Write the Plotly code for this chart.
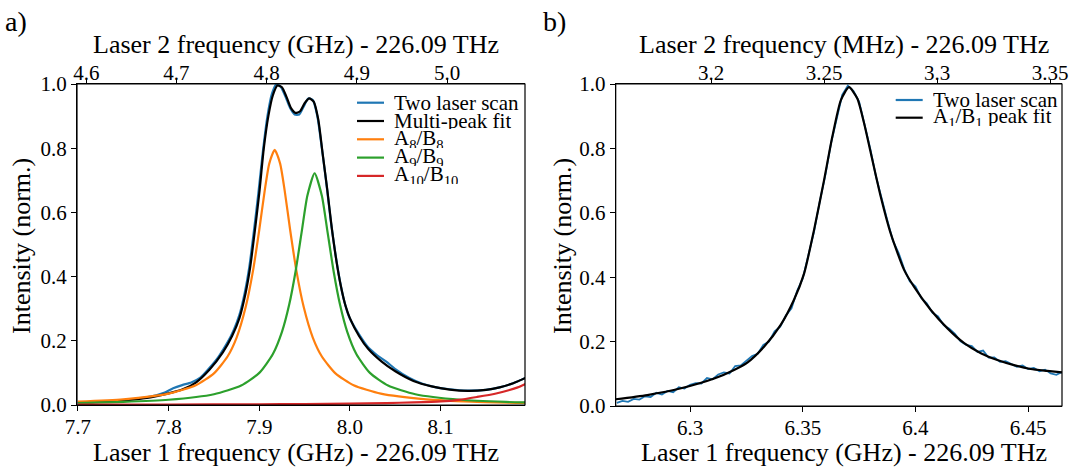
import plotly.graph_objects as go

# ---------------- panel a: multi-peak scan ----------------
scan_a_x = [7.700, 7.720, 7.740, 7.760, 7.780, 7.795, 7.805, 7.815, 7.825, 7.835,
            7.845, 7.855, 7.865, 7.872, 7.878, 7.884, 7.889, 7.894, 7.899, 7.904,
            7.909, 7.914, 7.919, 7.924, 7.929, 7.934, 7.939, 7.944, 7.949, 7.954,
            7.959, 7.964, 7.969, 7.974, 7.979, 7.984, 7.989, 7.994, 7.999, 8.010,
            8.020, 8.030, 8.040, 8.050, 8.065, 8.080, 8.095, 8.110, 8.130, 8.150,
            8.165, 8.180, 8.194]
scan_a_y = [0.006, 0.009, 0.013, 0.018, 0.026, 0.038, 0.052, 0.062, 0.070, 0.085,
            0.115, 0.150, 0.195, 0.235, 0.280, 0.350, 0.430, 0.540, 0.660, 0.790,
            0.900, 0.970, 1.000, 0.990, 0.960, 0.925, 0.905, 0.905, 0.930, 0.955,
            0.950, 0.900, 0.800, 0.690, 0.570, 0.470, 0.385, 0.320, 0.275, 0.220,
            0.180, 0.155, 0.135, 0.112, 0.085, 0.066, 0.055, 0.049, 0.045, 0.047,
            0.055, 0.068, 0.085]

fit_a_x = [7.700, 7.730, 7.760, 7.780, 7.800, 7.815, 7.830, 7.845, 7.860, 7.870,
           7.878, 7.885, 7.890, 7.895, 7.900, 7.905, 7.910, 7.915, 7.920, 7.925,
           7.930, 7.935, 7.940, 7.945, 7.950, 7.955, 7.960, 7.965, 7.970, 7.975,
           7.980, 7.985, 7.990, 7.995, 8.000, 8.010, 8.020, 8.035, 8.050, 8.070,
           8.090, 8.110, 8.130, 8.150, 8.165, 8.180, 8.194]
fit_a_y = [0.007, 0.011, 0.017, 0.024, 0.036, 0.048, 0.070, 0.110, 0.165, 0.215,
           0.270, 0.350, 0.430, 0.540, 0.660, 0.800, 0.900, 0.965, 0.995, 0.990,
           0.960, 0.925, 0.910, 0.915, 0.940, 0.955, 0.945, 0.890, 0.780, 0.670,
           0.550, 0.450, 0.370, 0.310, 0.270, 0.215, 0.175, 0.135, 0.105, 0.075,
           0.058, 0.048, 0.044, 0.047, 0.055, 0.068, 0.085]

peak8_x = [7.700, 7.750, 7.800, 7.830, 7.850, 7.865, 7.875, 7.885, 7.893, 7.900,
           7.906, 7.911, 7.917, 7.923, 7.928, 7.934, 7.941, 7.949, 7.959, 7.969,
           7.984, 8.004, 8.034, 8.084, 8.134, 8.194]
peak8_y = [0.0106, 0.0177, 0.0352, 0.0615, 0.0985, 0.151, 0.210, 0.305, 0.417, 0.546,
           0.668, 0.752, 0.795, 0.752, 0.668, 0.546, 0.417, 0.305, 0.210, 0.151,
           0.0985, 0.0615, 0.0352, 0.0177, 0.0106, 0.0065]

peak9_x = [7.700, 7.750, 7.800, 7.850, 7.880, 7.900, 7.915, 7.925, 7.933, 7.940,
           7.947, 7.953, 7.961, 7.969, 7.975, 7.982, 7.989, 7.997, 8.007, 8.022,
           8.042, 8.072, 8.122, 8.172, 8.194]
peak9_y = [0.0063, 0.0096, 0.0163, 0.0336, 0.0606, 0.100, 0.159, 0.228, 0.313, 0.416,
           0.544, 0.652, 0.722, 0.652, 0.544, 0.416, 0.313, 0.228, 0.159, 0.100,
           0.0606, 0.0336, 0.0163, 0.0096, 0.0079]

peak10_x = [7.700, 7.800, 7.900, 7.950, 8.000, 8.040, 8.070, 8.100, 8.120, 8.140,
            8.160, 8.175, 8.185, 8.194]
peak10_y = [0.001, 0.0015, 0.002, 0.003, 0.004, 0.006, 0.008, 0.011, 0.016, 0.025,
            0.035, 0.046, 0.055, 0.066]

# ---------------- panel b: single peak scan ----------------
scan_b_x = [6.2675, 6.2700, 6.2725, 6.2750, 6.2775, 6.2800, 6.2825, 6.2850, 6.2875, 6.2900,
            6.2925, 6.2950, 6.2975, 6.3000, 6.3025, 6.3050, 6.3075, 6.3100, 6.3125, 6.3150,
            6.3175, 6.3200, 6.3225, 6.3250, 6.3275, 6.3300, 6.3325, 6.3350, 6.3375, 6.3400,
            6.3425, 6.3450, 6.3475, 6.3500, 6.3525, 6.3550, 6.3575, 6.3600, 6.3625, 6.3650,
            6.3675, 6.3700, 6.3725, 6.3750, 6.3775, 6.3800, 6.3825, 6.3850, 6.3875, 6.3900,
            6.3925, 6.3950, 6.3975, 6.4000, 6.4025, 6.4050, 6.4075, 6.4100, 6.4125, 6.4150,
            6.4175, 6.4200, 6.4225, 6.4250, 6.4275, 6.4300, 6.4325, 6.4350, 6.4375, 6.4400,
            6.4425, 6.4450, 6.4475, 6.4500, 6.4525, 6.4550, 6.4575, 6.4600, 6.4625, 6.4650]
scan_b_y = [0.010, 0.016, 0.013, 0.022, 0.020, 0.030, 0.028, 0.041, 0.036, 0.047,
            0.043, 0.058, 0.054, 0.066, 0.071, 0.070, 0.087, 0.083, 0.098, 0.104,
            0.101, 0.124, 0.126, 0.141, 0.155, 0.162, 0.190, 0.200, 0.232, 0.246,
            0.281, 0.303, 0.358, 0.396, 0.472, 0.542, 0.634, 0.716, 0.815, 0.893,
            0.966, 0.995, 0.978, 0.945, 0.872, 0.797, 0.712, 0.641, 0.577, 0.513,
            0.476, 0.425, 0.387, 0.371, 0.336, 0.319, 0.290, 0.278, 0.251, 0.240,
            0.224, 0.201, 0.190, 0.186, 0.168, 0.172, 0.150, 0.151, 0.137, 0.139,
            0.131, 0.122, 0.126, 0.115, 0.118, 0.108, 0.113, 0.101, 0.097, 0.106]

fit_b_x = [6.2670, 6.2810, 6.2960, 6.3110, 6.3195, 6.3254, 6.3328, 6.3402, 6.3461, 6.3506,
           6.3550, 6.3594, 6.3631, 6.3669, 6.3705, 6.3742, 6.3772, 6.3802, 6.3846, 6.3890,
           6.3950, 6.3994, 6.4068, 6.4142, 6.4216, 6.4290, 6.4363, 6.4437, 6.4511, 6.4585,
           6.4652]
fit_b_y = [0.021, 0.034, 0.055, 0.086, 0.112, 0.135, 0.184, 0.252, 0.330, 0.412,
           0.547, 0.700, 0.836, 0.950, 0.990, 0.955, 0.878, 0.785, 0.650, 0.536,
           0.422, 0.370, 0.298, 0.241, 0.195, 0.164, 0.143, 0.127, 0.115, 0.109,
           0.104]

# ---------------- axis ticks ----------------
a_bottom_ticks = [7.7, 7.8, 7.9, 8.0, 8.1]
a_bottom_text = ["7.7", "7.8", "7.9", "8.0", "8.1"]
a_top_ticks = [4.6, 4.7, 4.8, 4.9, 5.0]
a_top_text = ["4.6", "4.7", "4.8", "4.9", "5.0"]
b_bottom_ticks = [6.3, 6.35, 6.4, 6.45]
b_bottom_text = ["6.3", "6.35", "6.4", "6.45"]
b_top_ticks = [3.2, 3.25, 3.3, 3.35]
b_top_text = ["3.2", "3.25", "3.3", "3.35"]
y_ticks = [0.0, 0.2, 0.4, 0.6, 0.8, 1.0]
y_text = ["0.0", "0.2", "0.4", "0.6", "0.8", "1.0"]

BLUE, ORANGE, GREEN, RED, BLACK = "#1f77b4", "#ff7f0e", "#2ca02c", "#d62728", "#000000"
FONT = "Liberation Serif"
W, H = 1072, 471


def px(X):
    return X / W


def py(Y):
    return 1 - Y / H


fig = go.Figure()


def curve(x, y, color, xa, ya, shape="spline", width=2.2):
    fig.add_trace(go.Scatter(x=x, y=y, mode="lines", xaxis=xa, yaxis=ya,
                             line=dict(color=color, width=width, shape=shape,
                                       smoothing=0.6),
                             showlegend=False, hoverinfo="skip"))


def top_axis_holder(ticks, xa, ya):
    # empty series so the secondary (top) frequency axis gets rendered
    fig.add_trace(go.Scatter(x=ticks, y=[None] * len(ticks), mode="lines",
                             xaxis=xa, yaxis=ya, showlegend=False, hoverinfo="skip"))


curve(scan_a_x, scan_a_y, BLUE, "x", "y")
curve(fit_a_x, fit_a_y, BLACK, "x", "y")
curve(peak8_x, peak8_y, ORANGE, "x", "y")
curve(peak9_x, peak9_y, GREEN, "x", "y")
curve(peak10_x, peak10_y, RED, "x", "y")
top_axis_holder(a_top_ticks, "x2", "y")
curve(scan_b_x, scan_b_y, BLUE, "x3", "y2", shape="linear", width=1.8)
curve(fit_b_x, fit_b_y, BLACK, "x3", "y2")
top_axis_holder(b_top_ticks, "x4", "y2")

tickfont = dict(family=FONT, size=21, color="black")
common = dict(showline=True, linecolor="black", linewidth=1.2, ticks="outside",
              ticklen=5, tickwidth=1, tickcolor="black", showgrid=False,
              zeroline=False, tickfont=tickfont, fixedrange=True, automargin=False)
top = dict(common, ticklen=4, ticklabelstandoff=-9)
bottom = dict(common, ticklabelstandoff=-2)

fig.update_layout(
    template="none",
    width=W, height=H, margin=dict(l=0, r=0, t=0, b=0, pad=0),
    paper_bgcolor="white", plot_bgcolor="white", showlegend=False,
    xaxis=dict(domain=[px(77), px(525)], anchor="y", range=[7.699, 8.193],
               tickmode="array", tickvals=a_bottom_ticks, ticktext=a_bottom_text, **bottom),
    xaxis2=dict(overlaying="x", side="top", anchor="y", range=[4.5897, 5.0864],
                tickmode="array", tickvals=a_top_ticks, ticktext=a_top_text, **top),
    yaxis=dict(domain=[py(405), py(84)], anchor="x", range=[0, 1.0],
               tickmode="array", tickvals=y_ticks, ticktext=y_text, **common),
    xaxis3=dict(domain=[px(615.7), px(1062)], anchor="y2", range=[6.267, 6.465],
                tickmode="array", tickvals=b_bottom_ticks, ticktext=b_bottom_text, **bottom),
    xaxis4=dict(overlaying="x3", side="top", anchor="y2", range=[3.1577, 3.3553],
                tickmode="array", tickvals=b_top_ticks, ticktext=b_top_text, **top),
    yaxis2=dict(domain=[py(406), py(84)], anchor="x3", range=[0, 1.0],
                tickmode="array", tickvals=y_ticks, ticktext=y_text, **common),
)

annotations = []
shapes = []

# plot frames
for xa, ya in (("x", "y"), ("x3", "y2")):
    shapes.append(dict(type="rect", xref=xa + " domain", yref=ya + " domain",
                       x0=0, x1=1, y0=0, y1=1, line=dict(color="black", width=1.2),
                       fillcolor="rgba(0,0,0,0)", layer="above"))


def text(X, Y, s, size, xanchor="center", angle=0, height=None):
    ann = dict(x=px(X), y=py(Y), xref="paper", yref="paper", text=s,
               showarrow=False, xanchor=xanchor, yanchor="middle",
               textangle=angle, borderpad=0,
               font=dict(family=FONT, size=size, color="black"))
    if height is not None:
        ann["height"] = height
        ann["valign"] = "middle"
    annotations.append(ann)


# axis titles
text(296, 45, "Laser 2 frequency (GHz) - 226.09 THz", 26)
text(296, 452, "Laser 1 frequency (GHz) - 226.09 THz", 26)
text(843.5, 45, "Laser 2 frequency (MHz) - 226.09 THz", 26)
text(843.5, 452, "Laser 1 frequency (GHz) - 226.09 THz", 26)
text(21, 246, "Intensity (norm.)", 26, angle=-90)
text(562, 246, "Intensity (norm.)", 26, angle=-90)

# panel labels
text(4, 22, "a)", 28, xanchor="left")
text(542, 22, "b)", 28, xanchor="left")

# legends
legend_a = [("Two laser scan", BLUE), ("Multi-peak fit", BLACK),
            ("A<sub>8</sub>/B<sub>8</sub>", ORANGE), ("A<sub>9</sub>/B<sub>9</sub>", GREEN),
            ("A<sub>10</sub>/B<sub>10</sub>", RED)]
legend_b = [("Two laser scan", BLUE), ("A<sub>1</sub>/B<sub>1</sub> peak fit", BLACK)]


def legend(entries, x0, y0, step):
    for i, (label, color) in enumerate(entries):
        Y = y0 + i * step
        shapes.append(dict(type="line", xref="paper", yref="paper",
                           x0=px(x0), x1=px(x0 + 27), y0=py(Y), y1=py(Y),
                           line=dict(color=color, width=2.2)))
        text(x0 + 36, Y, label, 21, xanchor="left", height=17)


legend(legend_a, 357, 102.7, 18.3)
legend(legend_b, 895.7, 100, 17.7)

fig.update_layout(annotations=annotations, shapes=shapes)
fig.write_html("out.html")
